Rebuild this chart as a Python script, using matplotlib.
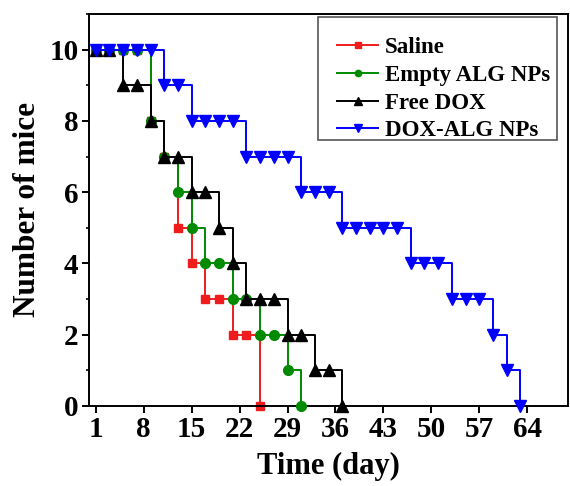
import matplotlib
matplotlib.use("Agg")
import matplotlib.pyplot as plt
from matplotlib.patches import Rectangle
from matplotlib.ticker import MultipleLocator

# survival counts
days_saline = [1, 3, 5, 7, 9, 11, 13, 15, 17, 19, 21, 23, 25]
mice_saline = [10, 10, 10, 10, 8, 7, 5, 4, 3, 3, 2, 2, 0]

days_empty = [1, 3, 5, 7, 9, 11, 13, 15, 17, 19, 21, 23, 25, 27, 29, 31]
mice_empty = [10, 10, 10, 10, 8, 7, 6, 5, 4, 4, 3, 3, 2, 2, 1, 0]

days_free = [1, 3, 5, 7, 9, 11, 13, 15, 17, 19, 21, 23, 25, 27, 29, 31, 33, 35, 37]
mice_free = [10, 10, 9, 9, 8, 7, 7, 6, 6, 5, 4, 3, 3, 3, 2, 2, 1, 1, 0]

days_dox = [1, 3, 5, 7, 9, 11, 13, 15, 17, 19, 21, 23, 25, 27, 29, 31, 33, 35,
            37, 39, 41, 43, 45, 47, 49, 51, 53, 55, 57, 59, 61, 63]
mice_dox = [10, 10, 10, 10, 10, 9, 9, 8, 8, 8, 8, 7, 7, 7, 7, 6, 6, 6,
            5, 5, 5, 5, 5, 4, 4, 4, 3, 3, 3, 2, 1, 0]

x_ticks = [1, 8, 15, 22, 29, 36, 43, 50, 57, 64]

plt.rcParams["font.family"] = ["Liberation Serif", "DejaVu Serif"]
plt.rcParams["font.weight"] = "bold"

fig = plt.figure(figsize=(5.7, 4.86), dpi=100)
ax = fig.add_axes([0.156, 0.165, 0.841, 0.806])

series = [
    ("Saline", days_saline, mice_saline, "#ee1c1c", "s", 6),
    ("Empty ALG NPs", days_empty, mice_empty, "#008a00", "o", 7),
    ("Free DOX", days_free, mice_free, "black", "^", 8),
    ("DOX-ALG NPs", days_dox, mice_dox, "#0000ff", "v", 9),
]
for i, (name, x, y, c, m, ms) in enumerate(series):
    ax.plot(x, y, drawstyle="steps-post", color=c, lw=1.4, zorder=2 + i)
    ax.plot(x, y, ls="none", marker=m, ms=ms, color=c, zorder=2 + i, clip_on=False)
    ax.plot([], [], color=c, lw=1.4, marker=m, ms=ms * 0.65, label=name)

ax.set_xlim(0, 70)
ax.set_ylim(0, 11)
ax.set_xticks(x_ticks)
ax.yaxis.set_major_locator(MultipleLocator(2))
ax.yaxis.set_minor_locator(MultipleLocator(1))
ax.tick_params(axis="both", which="major", direction="out", length=5, width=1.4,
               labelsize=21, pad=2.5)
ax.tick_params(axis="y", which="minor", direction="out", length=2.5, width=1.2)
for s in ax.spines.values():
    s.set_linewidth(1.4)

ax.set_xlabel("Time (day)", fontsize=22, fontweight="bold", labelpad=6)
ax.set_ylabel("Number of mice", fontsize=22.5, fontweight="bold", labelpad=5)

# legend box drawn separately: the original has a wide left margin inside it
ax.add_patch(Rectangle((0.478, 0.679), 0.499, 0.313, transform=ax.transAxes,
                       facecolor="white", edgecolor="#555555", lw=1.2, zorder=9))
leg = ax.legend(loc="upper right", bbox_to_anchor=(0.972, 0.992), borderaxespad=0,
                fontsize=16.5, frameon=False, handlelength=1.8,
                handletextpad=0.3, labelspacing=0.3, borderpad=0.2,
                title=" ", title_fontsize=6)
leg.set_zorder(10)

fig.savefig("out.png", dpi=100)
